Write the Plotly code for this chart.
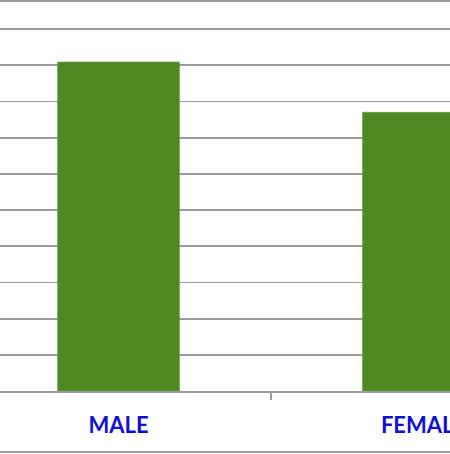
import plotly.graph_objects as go

categories = ["MALE", "FEMALE"]
values = [9.09, 7.70]

bar_color = "#4E8A23"
grid_color = "#9C9C9C"
label_color = "#0E0ECC"

fig = go.Figure(
    go.Bar(
        x=categories,
        y=values,
        marker=dict(color=bar_color, line=dict(color="#6FA04A", width=0.6)),
        width=0.4,
        hoverinfo="skip",
    )
)

fig.update_layout(
    width=450,
    height=454,
    margin=dict(l=0, r=0, t=0, b=63, autoexpand=False),
    paper_bgcolor="white",
    plot_bgcolor="white",
    showlegend=False,
    xaxis=dict(
        type="category",
        range=[-0.3885, 1.0869],
        automargin=False,
        showgrid=False,
        showline=True,
        linecolor=grid_color,
        linewidth=2,
        ticks="outside",
        tickson="boundaries",
        ticklen=7,
        tickwidth=1.5,
        tickcolor=grid_color,
        tickfont=dict(family="Lato", size=22, color=label_color, weight="bold"),
        ticklabelstandoff=14,
    ),
    yaxis=dict(
        range=[0, 391 / 36.2],
        dtick=1,
        automargin=False,
        showgrid=True,
        gridcolor=grid_color,
        gridwidth=1.8,
        showticklabels=False,
        zeroline=False,
        showline=False,
    ),
    shapes=[
        dict(type="line", xref="paper", yref="paper", x0=0, x1=1,
             y0=(391 - 1) / 391, y1=(391 - 1) / 391,
             line=dict(color=grid_color, width=1.8)),
        dict(type="line", xref="paper", yref="paper", x0=0, x1=1,
             y0=(391 - 452) / 391, y1=(391 - 452) / 391,
             line=dict(color=grid_color, width=2)),
    ],
)

post = (
    "document.body.style.margin='0';"
    "document.body.style.overflow='hidden';"
)

fig.write_html("out.html", post_script=post,
               config={"displayModeBar": False, "staticPlot": True})
